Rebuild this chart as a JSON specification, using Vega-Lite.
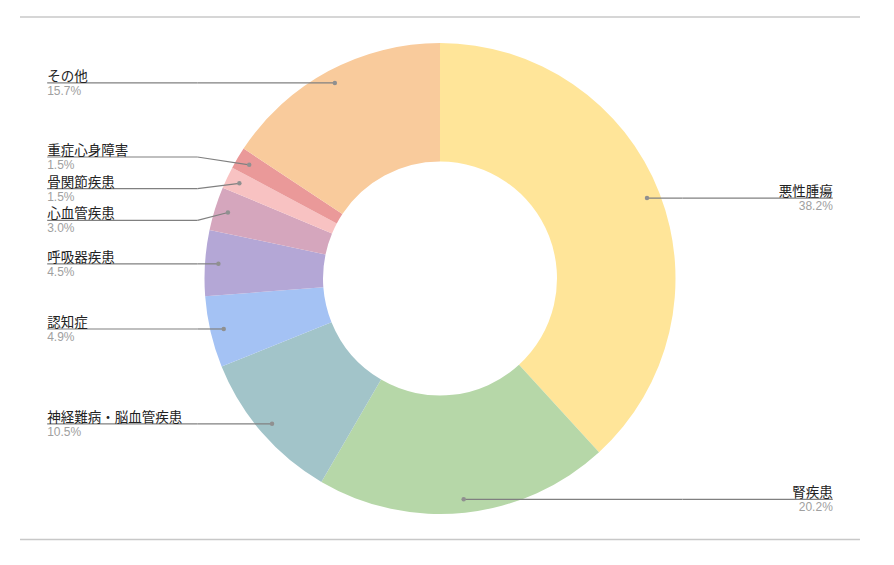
{
  "$schema": "https://vega.github.io/schema/vega-lite/v6.json",
  "width": 894,
  "height": 565,
  "autosize": {"type": "fit", "contains": "padding"},
  "padding": {"left": 0, "top": 0, "right": 14, "bottom": 8},
  "background": "white",
  "config": {"view": {"stroke": null}, "font": "Liberation Sans, Noto Sans CJK JP"},
  "data": {
    "values": [
      {"order": 1, "category": "悪性腫瘍", "value": 38.2},
      {"order": 2, "category": "腎疾患", "value": 20.2},
      {"order": 3, "category": "神経難病・脳血管疾患", "value": 10.5},
      {"order": 4, "category": "認知症", "value": 4.9},
      {"order": 5, "category": "呼吸器疾患", "value": 4.5},
      {"order": 6, "category": "心血管疾患", "value": 3.0},
      {"order": 7, "category": "骨関節疾患", "value": 1.5},
      {"order": 8, "category": "重症心身障害", "value": 1.5},
      {"order": 9, "category": "その他", "value": 15.7}
    ]
  },
  "transform": [
    {"window": [{"op": "sum", "field": "value", "as": "cum"}], "sort": [{"field": "order"}], "frame": [null, 0]},
    {"joinaggregate": [{"op": "sum", "field": "value", "as": "total"}]},
    {"calculate": "datum.value / datum.total", "as": "pct"},
    {"calculate": "(datum.cum - datum.value / 2) / datum.total * 2 * PI", "as": "mid"},
    {"calculate": "0.943 * sin(datum.mid)", "as": "dx"},
    {"calculate": "0.943 * cos(datum.mid)", "as": "dy"},
    {"calculate": "datum.dx < 0 ? 'L' : 'R'", "as": "side"},
    {"window": [{"op": "row_number", "as": "rn"}], "groupby": ["side"], "sort": [{"field": "dy", "order": "descending"}]},
    {"calculate": "datum.dy + 0.1345 * datum.rn", "as": "t"},
    {"window": [{"op": "min", "field": "t", "as": "tmin"}], "groupby": ["side"], "sort": [{"field": "dy", "order": "descending"}], "frame": [null, 0]},
    {"window": [{"op": "max", "field": "t", "as": "tmax"}], "groupby": ["side"], "sort": [{"field": "dy", "order": "descending"}], "frame": [0, null]},
    {"calculate": "(datum.tmin + datum.tmax) / 2 - 0.1345 * datum.rn", "as": "labelY"},
    {"calculate": "datum.side == 'L' ? -1.668 : 1.668", "as": "labelX"},
    {"calculate": "datum.side == 'L' ? -1.03 : 1.03", "as": "elbowX"}
  ],
  "layer": [
    {
      "mark": {"type": "arc", "outerRadius": 235.5, "innerRadius": 117, "stroke": null},
      "encoding": {
        "theta": {"field": "value", "type": "quantitative", "stack": true},
        "order": {"field": "order", "type": "quantitative"},
        "color": {
          "field": "category",
          "type": "nominal",
          "legend": null,
          "scale": {
            "domain": ["悪性腫瘍", "腎疾患", "神経難病・脳血管疾患", "認知症", "呼吸器疾患", "心血管疾患", "骨関節疾患", "重症心身障害", "その他"],
            "range": ["#ffe599", "#b6d7a8", "#a2c4c9", "#a4c2f4", "#b4a7d6", "#d5a6bd", "#f8c2c2", "#ea9999", "#f9cb9c"]
          }
        }
      }
    },
    {
      "mark": {"type": "rule", "color": "#c8c8c8", "strokeWidth": 1.5},
      "data": {"values": [{"ly": 1.1104}, {"ly": -1.1083}]},
      "transform": [],
      "encoding": {
        "y": {"field": "ly", "type": "quantitative", "scale": {"domain": [-1.1826, 1.1826], "nice": false, "zero": false}, "axis": null},
        "x": {"datum": -1.7834, "type": "quantitative", "scale": {"domain": [-1.8684, 1.8684], "nice": false, "zero": false}, "axis": null},
        "x2": {"datum": 1.7834}
      }
    },
    {
      "mark": {"type": "rule", "color": "#808080", "strokeWidth": 1.2},
      "encoding": {
        "x": {"field": "labelX", "type": "quantitative", "scale": {"domain": [-1.8684, 1.8684], "nice": false, "zero": false}, "axis": null},
        "x2": {"field": "elbowX"},
        "y": {"field": "labelY", "type": "quantitative", "scale": {"domain": [-1.1826, 1.1826], "nice": false, "zero": false}, "axis": null}
      }
    },
    {
      "mark": {"type": "rule", "color": "#808080", "strokeWidth": 1.2},
      "encoding": {
        "x": {"field": "elbowX", "type": "quantitative"},
        "x2": {"field": "dx"},
        "y": {"field": "labelY", "type": "quantitative"},
        "y2": {"field": "dy"}
      }
    },
    {
      "mark": {"type": "circle", "color": "#909090", "opacity": 1, "size": 20},
      "encoding": {
        "x": {"field": "dx", "type": "quantitative"},
        "y": {"field": "dy", "type": "quantitative"}
      }
    },
    {
      "transform": [{"filter": "datum.side == 'L'"}],
      "mark": {"type": "text", "align": "left", "baseline": "alphabetic", "dy": -2, "fontSize": 13.5, "color": "#222222"},
      "encoding": {
        "x": {"field": "labelX", "type": "quantitative"},
        "y": {"field": "labelY", "type": "quantitative"},
        "text": {"field": "category"}
      }
    },
    {
      "transform": [{"filter": "datum.side == 'L'"}],
      "mark": {"type": "text", "align": "left", "baseline": "top", "dy": 3, "fontSize": 12, "color": "#a0a0a0"},
      "encoding": {
        "x": {"field": "labelX", "type": "quantitative"},
        "y": {"field": "labelY", "type": "quantitative"},
        "text": {"field": "pct", "format": ".1%"}
      }
    },
    {
      "transform": [{"filter": "datum.side == 'R'"}],
      "mark": {"type": "text", "align": "right", "baseline": "alphabetic", "dy": -2, "fontSize": 13.5, "color": "#222222"},
      "encoding": {
        "x": {"field": "labelX", "type": "quantitative"},
        "y": {"field": "labelY", "type": "quantitative"},
        "text": {"field": "category"}
      }
    },
    {
      "transform": [{"filter": "datum.side == 'R'"}],
      "mark": {"type": "text", "align": "right", "baseline": "top", "dy": 3, "fontSize": 12, "color": "#a0a0a0"},
      "encoding": {
        "x": {"field": "labelX", "type": "quantitative"},
        "y": {"field": "labelY", "type": "quantitative"},
        "text": {"field": "pct", "format": ".1%"}
      }
    }
  ]
}
